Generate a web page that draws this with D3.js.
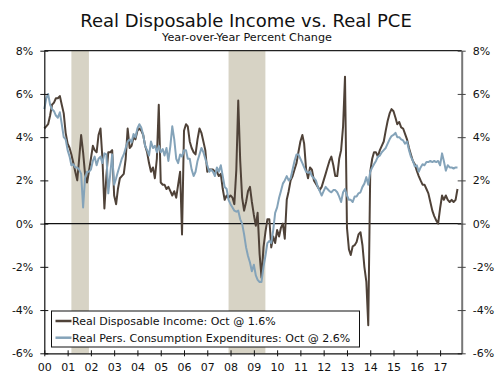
<!DOCTYPE html>
<html>
<head>
<meta charset="utf-8">
<script src="https://cdn.jsdelivr.net/npm/d3@7"></script>
<style>
  body { margin: 0; background: #fff; }
  text { font-family: "DejaVu Sans", Verdana, sans-serif; fill: #111; }
</style>
</head>
<body>
<div id="chart"></div>
<script>
// Real Disposable Income, year-over-year % change, monthly Jan 2000 - Oct 2017
const dpi = [
  4.4, 4.5, 4.6, 5.0, 5.5, 5.6, 5.8, 5.8, 5.9, 5.5, 5.1, 4.2,
  3.7, 3.5, 3.2, 2.8, 2.4, 2.0, 3.0, 4.1, 3.3, 2.3, 1.9, 2.4,
  3.0, 3.6, 3.4, 3.3, 4.1, 4.4, 3.0, 0.7, 2.2, 3.3, 3.3, 3.4,
  1.3, 0.9, 1.6, 2.1, 2.2, 2.3, 3.0, 4.4, 3.5, 3.6, 4.0, 3.9,
  4.3, 4.4, 4.3, 4.1, 3.6, 3.3, 2.8, 2.4, 2.6, 2.1, 3.0, 5.5,
  1.9, 1.8, 1.8, 1.6, 1.7, 1.5, 1.3, 1.5, 1.2, 1.8, 2.4, -0.5,
  4.3, 4.6, 4.5, 3.8, 3.5, 3.3, 3.2, 3.9, 4.4, 4.2, 3.8, 3.4,
  2.4, 2.5, 2.5, 2.5, 2.4, 2.4, 2.2, 2.3, 1.6, 1.1, 1.3, 1.2,
  1.3, 1.2, 0.9, 2.5, 5.7, 2.9, 1.2, 0.6, 1.0, 1.5, 1.7, 1.0,
  0.4, -0.1, 0.5, -1.4, -2.5, -1.1, -0.4, 0.2, 0.2, -1.1, -0.6, -0.9,
  -0.3, -0.6, -0.2, 0.0, -0.7, 1.1, 1.5, 2.0, 2.2, 2.5, 2.8, 3.3,
  3.8, 4.1, 3.7, 2.5, 2.1, 2.6, 2.5, 2.0, 1.85, 1.7, 1.55, 1.7,
  2.0, 2.3, 2.6, 2.9, 3.1, 2.7, 2.2, 2.2, 3.0, 3.4, 4.5, 6.8,
  -0.2, -1.2, -1.45, -1.05, -1.0, -0.85, -0.5, -0.4, -1.0, -2.0, -2.7, -4.7,
  2.4, 3.0, 3.3, 3.3, 3.1, 3.4, 3.6, 3.8, 4.3, 4.75, 5.1, 5.3,
  5.2, 4.9, 4.6, 4.7, 4.45, 4.4, 4.15, 3.9, 3.5, 3.2, 2.9, 2.75,
  2.45, 2.2, 2.0, 1.8, 1.8, 1.6, 1.4, 1.0, 0.6, 0.35, 0.15, 0.0,
  0.7, 1.3, 1.1, 1.3, 1.1, 1.0, 1.1, 1.0, 1.1, 1.6
];

// Real Personal Consumption Expenditures, year-over-year % change
const pce = [
  5.3, 5.8, 6.0, 5.5, 5.3, 5.2, 5.0, 4.9, 5.15, 4.6, 4.0, 3.9,
  3.4, 3.1, 2.7, 2.75, 2.6, 2.6, 2.5, 2.3, 0.75, 2.1, 2.4, 2.4,
  2.5, 2.9, 3.1, 2.7, 3.0, 3.1, 2.8, 3.25, 3.2, 1.4, 2.3, 3.2,
  1.8, 2.1, 2.4, 2.7, 3.0, 3.2, 3.5, 3.8, 3.9, 3.75, 4.15, 4.0,
  4.4, 4.6, 4.45, 4.1, 3.6, 3.4, 3.15, 3.8, 3.5, 3.6, 3.3, 3.6,
  3.3, 3.45, 3.15, 3.5, 2.9, 3.6, 4.5, 3.9, 3.0, 2.8, 3.2, 3.1,
  3.4, 3.4, 3.0, 3.0, 2.5, 2.2, 2.4, 2.9, 3.2, 3.5, 3.3, 3.0,
  2.7, 2.4, 2.5, 2.4, 2.2, 2.6, 2.4, 2.7, 2.2, 1.7, 1.6, 1.1,
  0.9, 0.75, 0.6, 0.55, 0.6, 0.2, 0.0, -0.5, -1.1, -1.5, -1.8, -2.2,
  -1.9, -2.4, -2.6, -2.7, -2.7, -2.0, -1.5, -0.9, -0.8, -0.9, -0.3, 0.5,
  0.75, 1.2, 1.5, 1.85, 2.0, 2.2, 2.0, 2.1, 2.5, 2.9, 3.2, 3.2,
  3.0, 2.8, 2.6, 2.4, 2.35, 2.4, 2.2, 2.1, 2.0, 1.7, 1.5, 1.3,
  1.5, 1.7, 1.6, 1.5, 1.45, 1.55, 1.55, 1.45, 1.25, 1.0, 1.45, 1.6,
  1.3, 1.1, 1.1, 1.0, 1.25, 1.25, 1.4, 1.45, 1.7, 1.85, 2.15, 1.8,
  2.4, 2.6, 2.75, 2.9, 3.1, 3.15, 3.3, 3.4, 3.5, 3.7, 3.9, 4.05,
  4.1, 4.2, 4.0, 4.0, 3.9, 3.85, 3.7, 3.8, 3.4, 3.1, 2.9, 2.65,
  2.7, 2.4, 2.6, 2.75, 2.7, 2.85, 2.85, 2.9, 2.85, 2.9, 2.85, 2.9,
  2.7, 3.25, 2.9, 2.45, 2.7, 2.6, 2.6, 2.55, 2.6, 2.6
];

const recessions = [
  ["2001-03-01", "2001-12-01"],
  ["2007-12-01", "2009-07-01"]
];
const yTicks = [-6, -4, -2, 0, 2, 4, 6, 8];
const legendLabels = [
  "Real Disposable Income: Oct @ 1.6%",
  "Real Pers. Consumption Expenditures: Oct @ 2.6%"
];

const colorDpi = "#4f4238";
const colorPce = "#84a3b9";
const colorShade = "#d7d3c5";

const width = 500, height = 375;
const margin = {top: 50.7, right: 38.3, bottom: 21.7, left: 44.3};

const svg = d3.select("#chart").append("svg")
  .attr("width", width)
  .attr("height", height);

const parse = d3.timeParse("%Y-%m-%d");
const start = new Date(2000, 0, 1);
const dates = dpi.map((d, i) => d3.timeMonth.offset(start, i));

const x = d3.scaleTime()
  .domain([start, new Date(2017, 11, 6)])
  .range([margin.left, width - margin.right]);

const y = d3.scaleLinear()
  .domain([-6, 8])
  .range([height - margin.bottom, margin.top]);

// titles
svg.append("text")
  .attr("x", 246).attr("y", 26.5)
  .attr("text-anchor", "middle")
  .style("font-size", "18px")
  .text("Real Disposable Income vs. Real PCE");

svg.append("text")
  .attr("x", 247).attr("y", 40.5)
  .attr("text-anchor", "middle")
  .style("font-size", "11.2px")
  .text("Year-over-Year Percent Change");

// recession bars
svg.selectAll(".rec")
  .data(recessions)
  .enter().append("rect")
  .attr("class", "rec")
  .attr("x", d => x(parse(d[0])))
  .attr("width", d => x(parse(d[1])) - x(parse(d[0])))
  .attr("y", y(8))
  .attr("height", y(-6) - y(8))
  .attr("fill", colorShade);

// top frame line + zero line
svg.append("line")
  .attr("x1", x.range()[0]).attr("x2", x.range()[1])
  .attr("y1", y(8)).attr("y2", y(8))
  .attr("stroke", "#222").attr("stroke-width", 1.2);

svg.append("line")
  .attr("x1", x.range()[0]).attr("x2", x.range()[1])
  .attr("y1", y(0)).attr("y2", y(0))
  .attr("stroke", "#111").attr("stroke-width", 1.2);

// series
const line = d3.line()
  .x((d, i) => x(dates[i]))
  .y(d => y(d));

svg.append("path")
  .datum(dpi)
  .attr("fill", "none")
  .attr("stroke", colorDpi)
  .attr("stroke-width", 2)
  .attr("stroke-linejoin", "round")
  .attr("d", line);

svg.append("path")
  .datum(pce)
  .attr("fill", "none")
  .attr("stroke", colorPce)
  .attr("stroke-width", 2)
  .attr("stroke-linejoin", "round")
  .attr("d", line);

// axes
const fmtPct = d => d + "%";

const yLeft = svg.append("g")
  .attr("transform", `translate(${margin.left},0)`)
  .call(d3.axisLeft(y).tickValues(yTicks).tickFormat(fmtPct).tickSize(4).tickSizeOuter(0));

const yRight = svg.append("g")
  .attr("transform", `translate(${width - margin.right},0)`)
  .call(d3.axisRight(y).tickValues(yTicks).tickFormat(fmtPct).tickSize(4).tickSizeOuter(0));

const xAxis = svg.append("g")
  .attr("transform", `translate(0,${y(-6)})`)
  .call(d3.axisBottom(x)
    .ticks(d3.timeYear.every(1))
    .tickFormat(d3.timeFormat("%y"))
    .tickSize(3)
    .tickSizeOuter(0));

[yLeft, yRight, xAxis].forEach(g => {
  g.selectAll("text").style("font-size", "11px").attr("fill", "#111");
  g.selectAll(".tick line").attr("stroke", "#111");
});

// ticks crossing the axis lines
yLeft.selectAll(".tick line").attr("x1", 4).attr("x2", -4);
yLeft.selectAll("text").attr("x", -11);
yLeft.select(".domain").attr("stroke", "#111").attr("stroke-width", 1.2);

yRight.selectAll(".tick line").attr("x1", -4).attr("x2", 4).attr("stroke", "#444");
yRight.selectAll("text").attr("x", 11);
yRight.select(".domain").attr("stroke", "#777").attr("stroke-width", 2);

xAxis.selectAll(".tick line").attr("y1", -3).attr("y2", 3);
xAxis.selectAll("text").attr("y", 10);
xAxis.select(".domain").attr("stroke", "#111").attr("stroke-width", 1.2);

// legend
const legend = svg.append("g").attr("transform", "translate(51.5,311)");

legend.append("rect")
  .attr("width", 308).attr("height", 36)
  .attr("fill", "#fff")
  .attr("stroke", "#111").attr("stroke-width", 1);

const items = legend.selectAll(".item")
  .data(legendLabels)
  .enter().append("g")
  .attr("class", "item")
  .attr("transform", (d, i) => `translate(4,${10 + i * 16.7})`);

items.append("line")
  .attr("x1", 0).attr("x2", 16)
  .attr("stroke", (d, i) => i === 0 ? colorDpi : colorPce)
  .attr("stroke-width", 2.5);

items.append("text")
  .attr("x", 16.5).attr("y", 4)
  .style("font-size", "11px")
  .text(d => d);
</script>
</body>
</html>
